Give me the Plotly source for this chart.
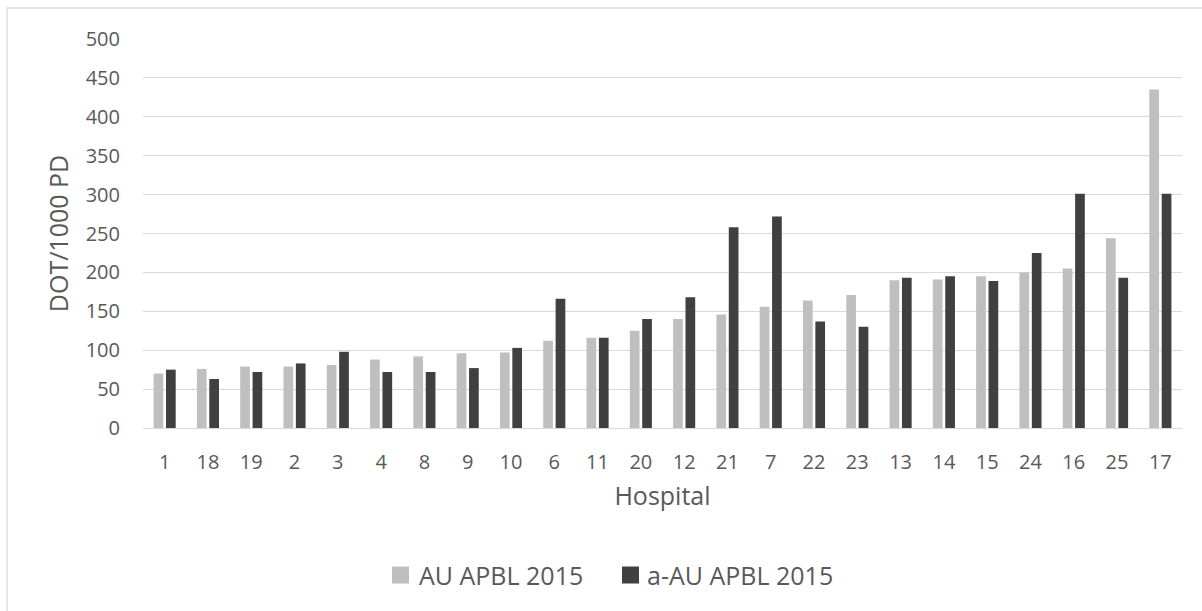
import plotly.graph_objects as go

hospitals = ["1", "18", "19", "2", "3", "4", "8", "9", "10", "6", "11", "20",
             "12", "21", "7", "22", "23", "13", "14", "15", "24", "16", "25", "17"]
au_apbl_2015 = [70, 76, 79, 79, 81, 88, 92, 96, 97, 112, 116, 125,
                140, 146, 156, 164, 171, 190, 191, 195, 200, 205, 244, 435]
a_au_apbl_2015 = [75, 63, 72, 83, 98, 72, 72, 77, 103, 166, 116, 140,
                  168, 258, 272, 137, 130, 193, 195, 189, 225, 301, 193, 301]
series_names = ["AU APBL 2015", "a-AU APBL 2015"]
series_colors = ["#BFBFBF", "#404040"]

W, H = 1202, 611
L, R, T, B = 143, 20, 39, 183
pw, ph = W - L - R, H - T - B

FONT = "Open Sans"
TXT = "#595959"

fig = go.Figure()
for vals, name, col in zip([au_apbl_2015, a_au_apbl_2015], series_names, series_colors):
    fig.add_trace(go.Bar(x=hospitals, y=vals, name=name,
                         marker=dict(color=col, line=dict(width=0))))

def px_x(p):
    return (p - L) / pw

def px_y(p):
    return (H - B - p) / ph

# legend drawn as swatches + labels (Excel style, 17px squares)
legend_sw_x = [392, 622]
legend_txt_x = [417, 645]
legend_y = 575
shapes = [dict(type="rect", xref="paper", yref="paper",
               x0=px_x(7), x1=px_x(1230), y0=px_y(640), y1=px_y(8),
               line=dict(color="#D9D9D9", width=1.3), fillcolor="rgba(0,0,0,0)",
               layer="below")]
annotations = []
for sx, tx, name, col in zip(legend_sw_x, legend_txt_x, series_names, series_colors):
    shapes.append(dict(type="rect", xref="paper", yref="paper",
                       x0=px_x(sx), x1=px_x(sx + 17),
                       y0=px_y(legend_y + 8.5), y1=px_y(legend_y - 8.5),
                       line=dict(width=0), fillcolor=col))
    annotations.append(dict(xref="paper", yref="paper", x=px_x(tx), y=px_y(legend_y),
                            xanchor="left", yanchor="middle", showarrow=False,
                            text=name, font=dict(size=25, color=TXT, family=FONT)))

fig.update_layout(
    width=W, height=H,
    margin=dict(l=L, r=R, t=T, b=B, autoexpand=False),
    paper_bgcolor="white", plot_bgcolor="white",
    barmode="group", bargap=0.427, bargroupgap=0.218,
    font=dict(family=FONT, color=TXT),
    showlegend=False,
    xaxis=dict(type="category", showgrid=False, showline=False, zeroline=False,
               ticks="", tickfont=dict(size=20, color=TXT, family=FONT),
               ticklabelstandoff=20,
               title=dict(text="Hospital", font=dict(size=25, color=TXT, family=FONT),
                          standoff=13)),
    yaxis=dict(range=[0, 500], dtick=50, tick0=0, showgrid=True,
               gridcolor="#D9D9D9", gridwidth=1.3, zeroline=True,
               zerolinecolor="#D9D9D9", zerolinewidth=1.3, showline=False,
               ticks="", tickfont=dict(size=20, color=TXT, family=FONT),
               ticklabelstandoff=22,
               title=dict(text="DOT/1000 PD", font=dict(size=25, color=TXT, family=FONT),
                          standoff=9)),
    shapes=shapes,
    annotations=annotations,
)

fig.write_html("out.html", config={"displayModeBar": False},
               post_script="document.body.style.margin='0';document.body.style.overflow='hidden';")
